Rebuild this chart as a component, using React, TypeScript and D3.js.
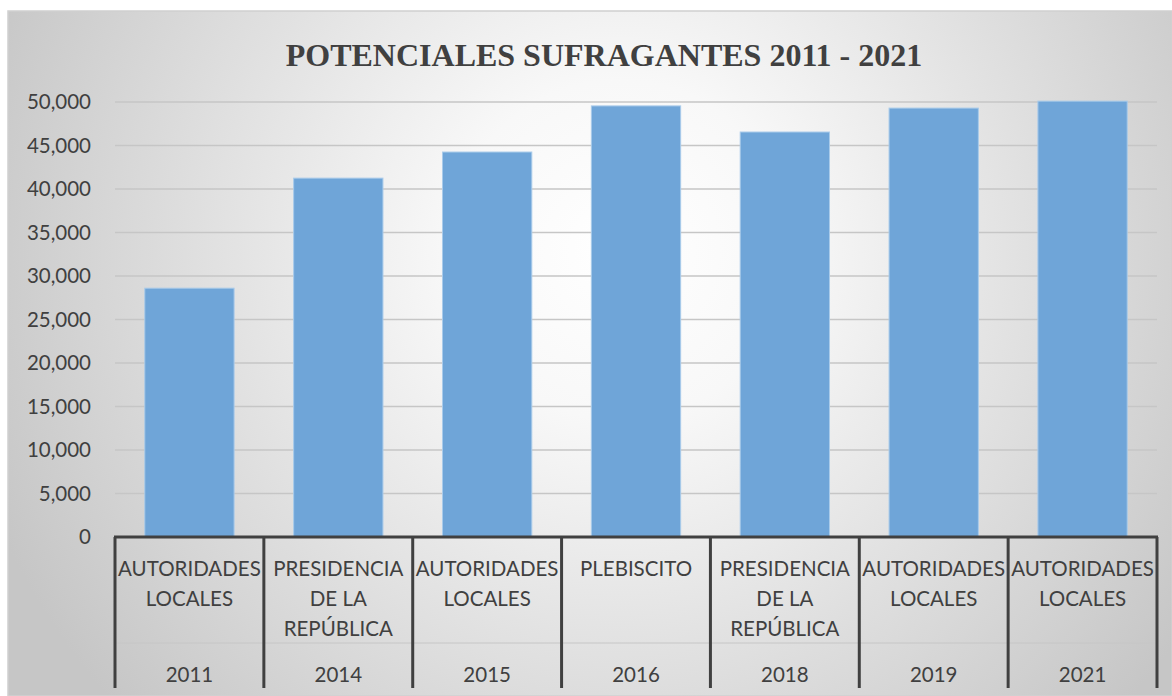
import React from "react";
import * as d3 from "d3";

const categories = ["AUTORIDADES LOCALES", "PRESIDENCIA DE LA REPÚBLICA", "AUTORIDADES LOCALES", "PLEBISCITO", "PRESIDENCIA DE LA REPÚBLICA", "AUTORIDADES LOCALES", "AUTORIDADES LOCALES"];
const categoryLines = [["AUTORIDADES", "LOCALES"], ["PRESIDENCIA", "DE LA", "REPÚBLICA"], ["AUTORIDADES", "LOCALES"], ["PLEBISCITO"], ["PRESIDENCIA", "DE LA", "REPÚBLICA"], ["AUTORIDADES", "LOCALES"], ["AUTORIDADES", "LOCALES"]];
const years = ["2011", "2014", "2015", "2016", "2018", "2019", "2021"];
const values = [28600, 41250, 44250, 49550, 46550, 49300, 50100];
const yTicks = [0, 5000, 10000, 15000, 20000, 25000, 30000, 35000, 40000, 45000, 50000];
const title = "POTENCIALES SUFRAGANTES 2011 - 2021";

export default function App() {
  const W = 1172, H = 696;
  const left = 115, right = 1157, top = 102, bottom = 537;
  const keys = years.map((y, i) => y + "_" + i);
  const xb = d3.scaleBand<string>().domain(keys).range([left, right]);
  const barW = xb.bandwidth() * 0.6;
  const y = d3.scaleLinear().domain([0, 50000]).range([bottom, top]);
  const fmt = d3.format(",");
  const font = "Lato, 'Noto Sans', sans-serif";
  const fs = 20.5;
  return (
    <div style={{ position: "fixed", left: 0, top: 0 }}>
      <svg width={W} height={H} style={{ display: "block" }}>
        <defs>
          <radialGradient id="bg" cx="620" cy="250" r="680" gradientUnits="userSpaceOnUse">
            <stop offset="0" stopColor="#ffffff" />
            <stop offset="0.25" stopColor="#f8f8f8" />
            <stop offset="1" stopColor="#c6c6c6" />
          </radialGradient>
        </defs>
        <rect x={0} y={0} width={W} height={H} fill="#ffffff" />
        <rect x={8} y={11} width={W - 8} height={H - 11} fill="url(#bg)" stroke="#d0d0d0" strokeWidth={1.5} />
        <text x={604} y={66} textAnchor="middle" fontFamily="'Liberation Serif', 'Times New Roman', serif" fontWeight="bold" fontSize={32} fill="#404040">{title}</text>
        {yTicks.map((t) => (
          <g key={t}>
            {t > 0 && <line x1={left} x2={right} y1={y(t)} y2={y(t)} stroke="#c6c6c6" strokeWidth={1.5} />}
            <text x={91} y={y(t)} dy="0.35em" textAnchor="end" fontFamily={font} fontSize={fs} fill="#404040">{fmt(t)}</text>
          </g>
        ))}
        <line x1={left} x2={right} y1={643} y2={643} stroke="#c6c6c6" strokeWidth={1} />
        {values.map((v, i) => (
          <rect key={i} x={xb(keys[i])! + (xb.bandwidth() - barW) / 2} y={y(v)} width={barW} height={bottom - y(v)} fill="#6fa5d8" stroke="#a9cbea" strokeWidth={1} />
        ))}
        <line x1={left - 1} x2={right + 1} y1={bottom} y2={bottom} stroke="#404040" strokeWidth={3} />
        {keys.map((k, i) => (
          <line key={"s" + i} x1={xb(k)!} x2={xb(k)!} y1={bottom} y2={688} stroke="#404040" strokeWidth={3} />
        ))}
        <line x1={right} x2={right} y1={bottom} y2={688} stroke="#404040" strokeWidth={3} />
        {keys.map((k, i) => {
          const cx = xb(k)! + xb.bandwidth() / 2;
          return (
            <g key={"l" + i}>
              <text textAnchor="middle" fontFamily={font} fontSize={fs} fill="#404040" aria-label={categories[i]}>
                {categoryLines[i].map((ln, j) => (
                  <tspan key={j} x={cx} y={576 + j * 30}>{ln}</tspan>
                ))}
              </text>
              <text x={cx} y={682} textAnchor="middle" fontFamily={font} fontSize={fs} fill="#404040">{years[i]}</text>
            </g>
          );
        })}
      </svg>
    </div>
  );
}
